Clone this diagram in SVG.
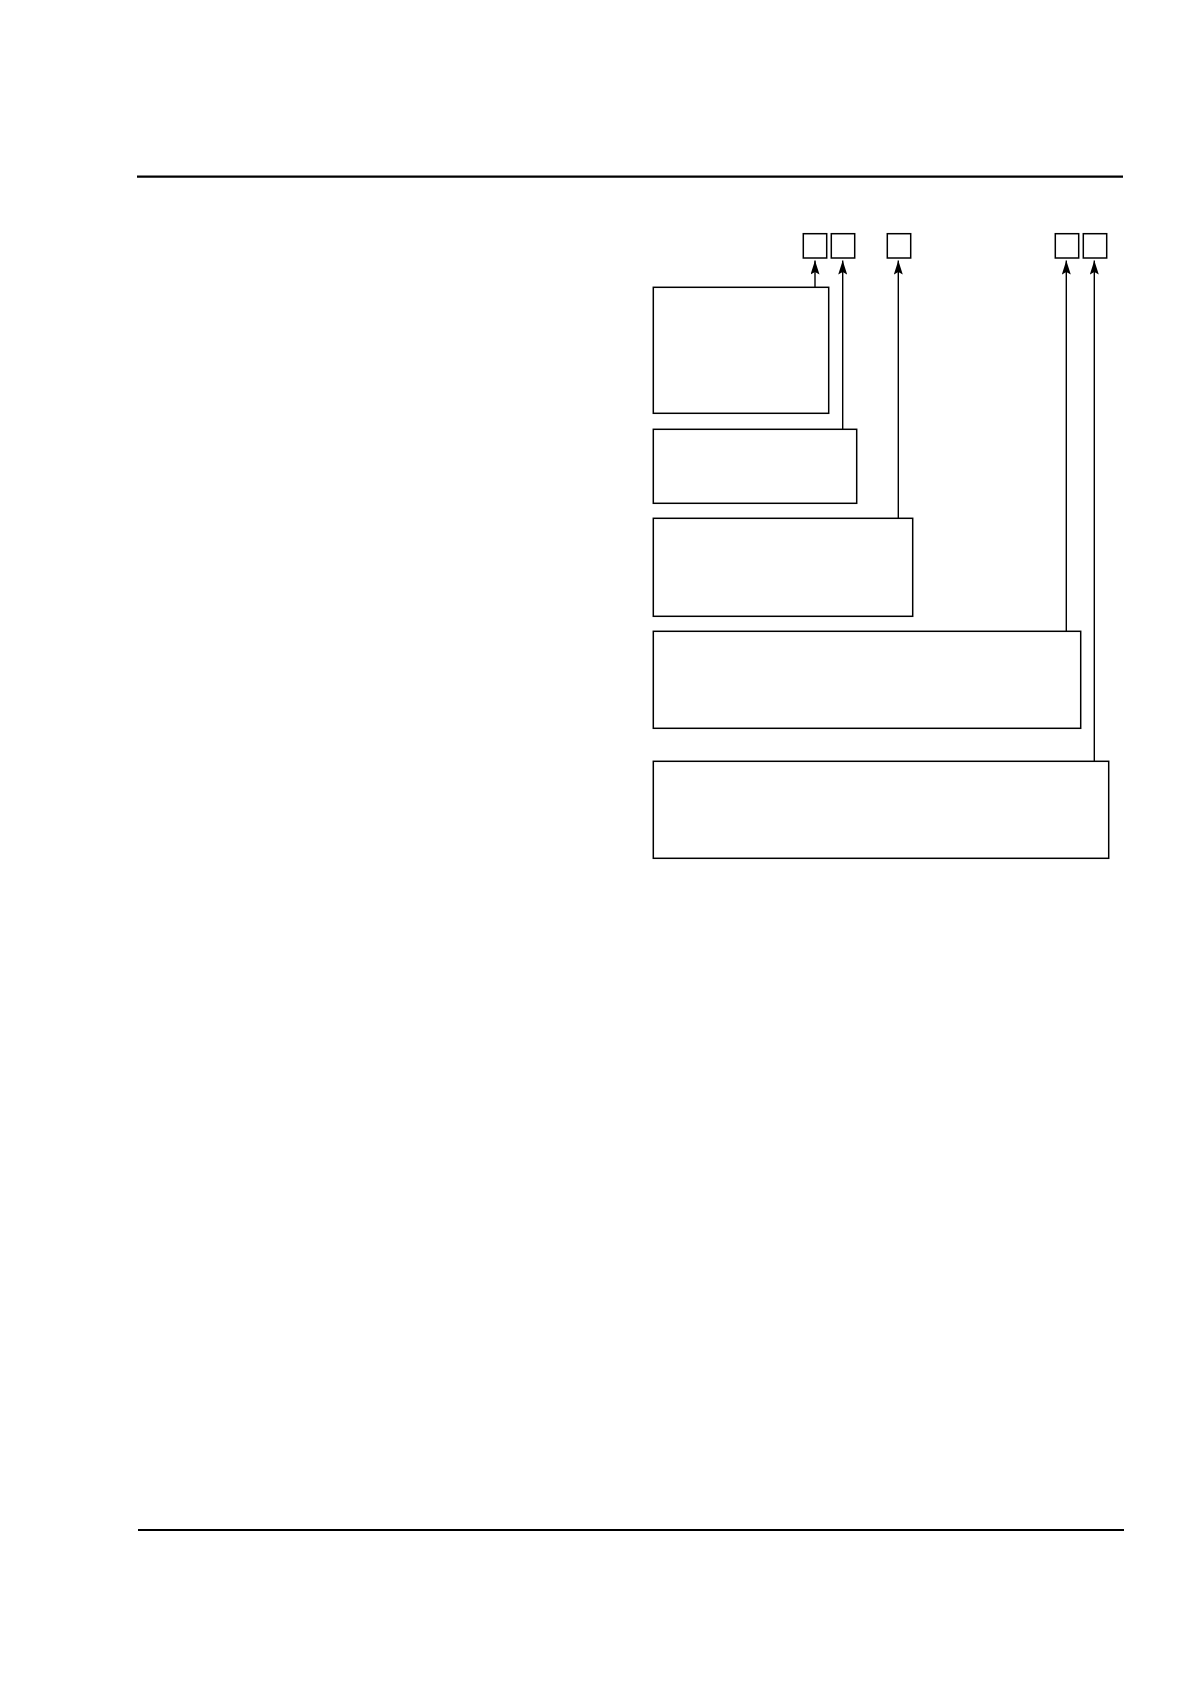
<svg xmlns="http://www.w3.org/2000/svg" width="1190" height="1684" viewBox="0 0 1190 1684">
<style>
.box{fill:#fff;stroke:#000;stroke-width:1.5}
.rule{stroke:#000;stroke-width:2.2}
.conn{fill:none;stroke:#000;stroke-width:1.4}
</style>
<defs>
<marker id="ah" markerUnits="userSpaceOnUse" markerWidth="14" markerHeight="9" refX="14" refY="4.5" orient="auto" viewBox="0 0 14 9">
<path d="M14,4.5 L0,0 L2.5,4.5 L0,9 Z" fill="#000"/>
</marker>
</defs>
<rect width="1190" height="1684" fill="#fff"/>
<line class="rule" x1="137" y1="176.7" x2="1123" y2="176.7"/>
<line class="rule" x1="138" y1="1530" x2="1124" y2="1530"/>
<g id="tag1"><rect class="box" x="803.3" y="233.7" width="23.4" height="24.3"/></g>
<g id="tag2"><rect class="box" x="831.3" y="233.7" width="23.4" height="24.3"/></g>
<g id="tag3"><rect class="box" x="887.3" y="233.7" width="23.4" height="24.3"/></g>
<g id="tag4"><rect class="box" x="1055.3" y="233.7" width="23.4" height="24.3"/></g>
<g id="tag5"><rect class="box" x="1083.3" y="233.7" width="23.4" height="24.3"/></g>
<g id="boxA"><rect class="box" x="653.3" y="287.3" width="175.4" height="126"/></g>
<g id="boxB"><rect class="box" x="653.3" y="429.3" width="203.4" height="74"/></g>
<g id="boxC"><rect class="box" x="653.3" y="518.3" width="259.4" height="98"/></g>
<g id="boxD"><rect class="box" x="653.3" y="631.3" width="427.4" height="97"/></g>
<g id="boxE"><rect class="box" x="653.3" y="761.3" width="455.4" height="97"/></g>
<g id="connectors">
<line class="conn" x1="815" y1="287.3" x2="815" y2="260.5" marker-end="url(#ah)"/>
<line class="conn" x1="842.7" y1="429.3" x2="842.7" y2="260.5" marker-end="url(#ah)"/>
<line class="conn" x1="898.3" y1="518.3" x2="898.3" y2="260.5" marker-end="url(#ah)"/>
<line class="conn" x1="1066.3" y1="631.3" x2="1066.3" y2="260.5" marker-end="url(#ah)"/>
<line class="conn" x1="1094.3" y1="761.3" x2="1094.3" y2="260.5" marker-end="url(#ah)"/>
</g>
</svg>
